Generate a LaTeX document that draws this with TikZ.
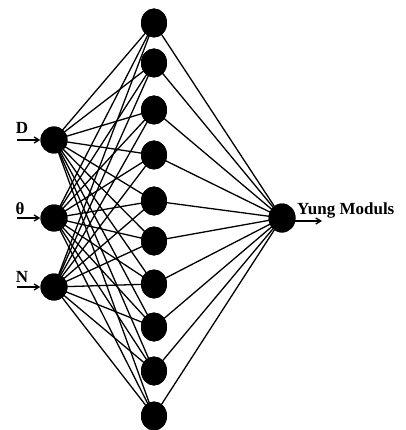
\documentclass[tikz,border=0pt]{standalone}
\usepackage{fontspec}
\setmainfont{Liberation Serif}
\usetikzlibrary{shapes.geometric,arrows.meta}
\begin{document}
\begin{tikzpicture}[x=1pt,y=-1pt,
  neuron/.style={ellipse,fill=black,inner sep=0pt,minimum width=26pt,minimum height=29pt},
  inneuron/.style={neuron,minimum width=27pt,minimum height=27pt},
  link/.style={line width=1.3pt,black},
  feed/.style={line width=1.3pt,-{Straight Barb[length=5pt,width=6pt]}},
  lbl/.style={font=\fontsize{17}{17}\selectfont\bfseries,inner sep=0pt}]
\useasboundingbox (0,0) rectangle (405,430);

% input layer
\node[inneuron] (i1) at (54,140) {};
\node[inneuron] (i2) at (54,218) {};
\node[inneuron] (i3) at (54,287) {};

% hidden layer
\foreach \k/\y in {1/23,2/63,3/110,4/155,5/201,6/241,7/284,8/327,9/371,10/416}
  \node[neuron] (h\k) at (154,\y) {};

% output layer
\node[neuron,minimum width=27pt,minimum height=29pt] (o) at (282,218) {};

% weights
\foreach \i in {1,2,3}
  \foreach \k in {1,...,10}
    \draw[link] (i\i.center) -- (h\k.center);
\foreach \k in {1,...,10}
  \draw[link] (h\k.center) -- (o.center);

% redraw nodes on top of the links
\foreach \i in {1,2,3} \fill (i\i) ellipse (13.5pt and 13.5pt);
\foreach \k in {1,...,10} \fill (h\k) ellipse (13pt and 14.5pt);
\fill (o) ellipse (13.5pt and 14.5pt);

% inputs and output
\coordinate (a1) at (17,140);
\coordinate (a2) at (17,218);
\coordinate (a3) at (17,287);
\coordinate (b) at (322,221);
\draw[feed] (a1) -- (i1.west);
\draw[feed] (a2) -- (i2.west);
\draw[feed] (a3) -- (i3.west);
\draw[feed] (o.center |- b) -- (b);

\node[lbl] (l1) at (22,128) {D};
\node[lbl] (l2) at (20,209) {θ};
\node[lbl] (l3) at (22,277) {N};
\node[lbl,anchor=base west] (lo) at (297,214) {Yung Moduls};
\end{tikzpicture}
\end{document}
